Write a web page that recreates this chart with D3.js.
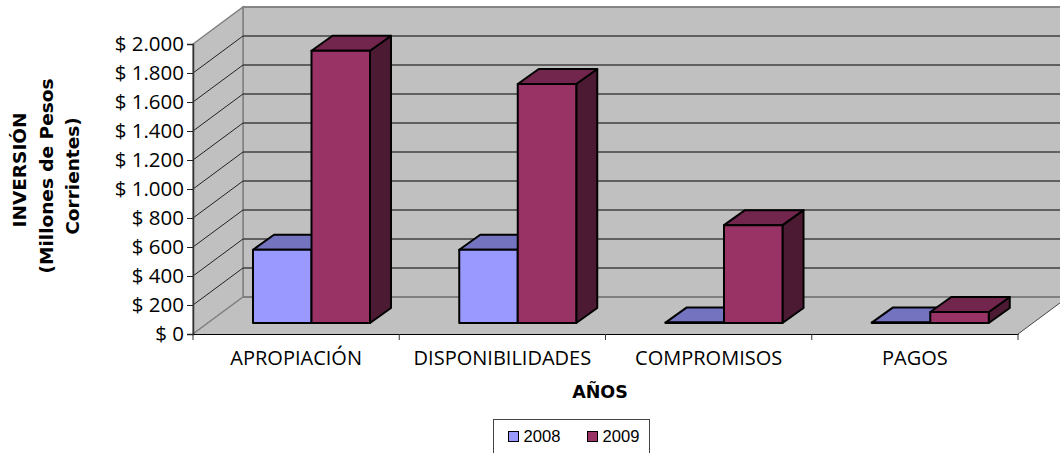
<!DOCTYPE html>
<html>
<head>
<meta charset="utf-8">
<script src="https://cdn.jsdelivr.net/npm/d3@7"></script>
<style>
  html, body { margin: 0; padding: 0; background: #fff; }
  svg { display: block; }
</style>
</head>
<body>
<div id="chart"></div>
<script>
var categories = ["APROPIACIÓN", "DISPONIBILIDADES", "COMPROMISOS", "PAGOS"];
var seriesNames = ["2008", "2009"];
var values2008 = [505, 505, 3, 3];
var values2009 = [1878, 1648, 675, 76];
var yTicks = [0, 200, 400, 600, 800, 1000, 1200, 1400, 1600, 1800, 2000];

var width = 1060, height = 453;
var left = 193, right = 1018, bottom = 334, top_ = 44;
var wallDx = 50, wallDy = -37;      // depth of the whole 3d box
var barDx = 21, barDy = -15;        // depth of one bar
var baseDy = -11;                   // where bars stand on the floor
var clusterWidth = 117;

var colors = {
    "2008": {front: "#9999ff", top: "#7373bf", side: "#4d4d80"},
    "2009": {front: "#993366", top: "#73264d", side: "#4d1a33"}
};

var svg = d3.select("#chart").append("svg")
    .attr("width", width)
    .attr("height", height);

var x = d3.scaleBand().domain(categories).range([left, right]);
var xSeries = d3.scaleBand().domain(seriesNames).range([0, clusterWidth]);
var y = d3.scaleLinear().domain([0, 2000]).range([bottom, top_]);

function pts(list) {
    return list.map(function (p) { return p.join(","); }).join(" ");
}

// Walls and floor
svg.append("polygon")
    .attr("points", pts([[left + wallDx, top_ + wallDy], [width + 2, top_ + wallDy], [width + 2, bottom + wallDy], [left + wallDx, bottom + wallDy]]))
    .attr("fill", "#c0c0c0").attr("stroke", "#808080").attr("stroke-width", 1.5);
svg.append("polygon")
    .attr("points", pts([[left, top_], [left + wallDx, top_ + wallDy], [left + wallDx, bottom + wallDy], [left, bottom]]))
    .attr("fill", "#c0c0c0").attr("stroke", "#808080").attr("stroke-width", 1.5);
svg.append("polygon")
    .attr("points", pts([[left, bottom], [right, bottom], [right + wallDx, bottom + wallDy], [left + wallDx, bottom + wallDy]]))
    .attr("fill", "#c0c0c0");

// Gridlines on back and side walls
svg.selectAll("line.back").data(yTicks.slice(1)).enter().append("line")
    .attr("class", "back")
    .attr("x1", left + wallDx).attr("x2", width)
    .attr("y1", function (d) { return y(d) + wallDy; })
    .attr("y2", function (d) { return y(d) + wallDy; })
    .attr("stroke", function (d) { return d === 2000 ? "#808080" : "#404040"; })
    .attr("stroke-width", 1.3);
svg.selectAll("line.side").data(yTicks.slice(1, -1)).enter().append("line")
    .attr("class", "side")
    .attr("x1", left).attr("x2", left + wallDx)
    .attr("y1", function (d) { return y(d); })
    .attr("y2", function (d) { return y(d) + wallDy; })
    .attr("stroke", "#111").attr("stroke-width", 0.9);

// Floor edges
svg.append("line")
    .attr("x1", left).attr("y1", bottom).attr("x2", left + wallDx).attr("y2", bottom + wallDy)
    .attr("stroke", "#808080").attr("stroke-width", 1.2);
svg.append("line")
    .attr("x1", left + wallDx).attr("y1", bottom + wallDy).attr("x2", width).attr("y2", bottom + wallDy)
    .attr("stroke", "#808080").attr("stroke-width", 2);
svg.append("line")
    .attr("x1", right).attr("y1", bottom).attr("x2", right + wallDx).attr("y2", bottom + wallDy)
    .attr("stroke", "#222").attr("stroke-width", 0.8);

// Bars, 2008 first so the 2009 front covers its side
function drawBars(name, vals) {
    var c = colors[name];
    var g = svg.append("g").attr("class", "bars-" + name)
        .attr("stroke", "#000").attr("stroke-width", 2).attr("stroke-linejoin", "round");
    categories.forEach(function (cat, i) {
        var x0 = x(cat) + 60 + xSeries(name);
        var x1 = x0 + xSeries.bandwidth();
        var yb = y(0) + baseDy;
        var yt = y(vals[i]) + baseDy;
        g.append("polygon").attr("fill", c.side)
            .attr("points", pts([[x1, yt], [x1 + barDx, yt + barDy], [x1 + barDx, yb + barDy], [x1, yb]]));
        g.append("polygon").attr("fill", c.top)
            .attr("points", pts([[x0, yt], [x0 + barDx, yt + barDy], [x1 + barDx, yt + barDy], [x1, yt]]));
        g.append("rect").attr("fill", c.front)
            .attr("x", x0).attr("y", yt)
            .attr("width", x1 - x0).attr("height", yb - yt);
    });
}
drawBars("2008", values2008);
drawBars("2009", values2009);

// Y axis
var yAxis = d3.axisLeft(y)
    .tickValues(yTicks)
    .tickSize(6)
    .tickPadding(3)
    .tickFormat(function (d) {
        return "$ " + d3.format(",")(d).replace(/,/g, ".");
    });
var yG = svg.append("g").attr("transform", "translate(" + left + ",0)").call(yAxis);
yG.selectAll("text").attr("font-family", "'Open Sans', sans-serif").attr("font-size", 20.5).attr("fill", "#000");
yG.selectAll("line").attr("stroke", "#222");
yG.select(".domain").attr("stroke", "#333").attr("stroke-width", 1.5);

// X axis: labels centred in each band, ticks between bands
var xAxis = d3.axisBottom(x).tickSize(0).tickPadding(17);
var xG = svg.append("g").attr("transform", "translate(0," + bottom + ")").call(xAxis);
xG.selectAll("text").attr("font-family", "'Open Sans', sans-serif").attr("font-size", 20).attr("fill", "#000");
xG.select(".domain").attr("stroke", "#000").attr("stroke-width", 1.2);
svg.selectAll("line.xtick").data(categories.concat(["end"])).enter().append("line")
    .attr("class", "xtick")
    .attr("x1", function (d) { return d === "end" ? right : x(d); })
    .attr("x2", function (d) { return d === "end" ? right : x(d); })
    .attr("y1", bottom).attr("y2", bottom + 6)
    .attr("stroke", "#333");

// Axis titles
svg.append("text")
    .attr("x", 600).attr("y", 398).attr("text-anchor", "middle")
    .attr("font-family", "'DejaVu Sans', sans-serif").attr("font-weight", "bold").attr("font-size", 17.5)
    .text("AÑOS");
var yTitle = svg.append("text")
    .attr("transform", "translate(0,174) rotate(-90)")
    .attr("text-anchor", "middle")
    .attr("font-family", "'DejaVu Sans', sans-serif").attr("font-weight", "bold").attr("font-size", 18.5);
yTitle.append("tspan").attr("x", 4).attr("y", 26).text("INVERSIÓN");
yTitle.append("tspan").attr("x", -2).attr("y", 52.5).text("(Millones de Pesos");
yTitle.append("tspan").attr("x", -2).attr("y", 79).text("Corrientes)");

// Legend
var legend = svg.append("g");
legend.append("rect")
    .attr("x", 493.5).attr("y", 419.5).attr("width", 156).attr("height", 40)
    .attr("fill", "#fff").attr("stroke", "#444");
seriesNames.forEach(function (name, i) {
    var lx = 508.5 + i * 79;
    legend.append("rect")
        .attr("x", lx).attr("y", 431.5).attr("width", 10).attr("height", 10)
        .attr("fill", colors[name].front).attr("stroke", "#000");
    legend.append("text")
        .attr("x", lx + 15).attr("y", 442)
        .attr("font-family", "'Liberation Sans', Arial, sans-serif").attr("font-size", 16.6)
        .text(name);
});
</script>
</body>
</html>
